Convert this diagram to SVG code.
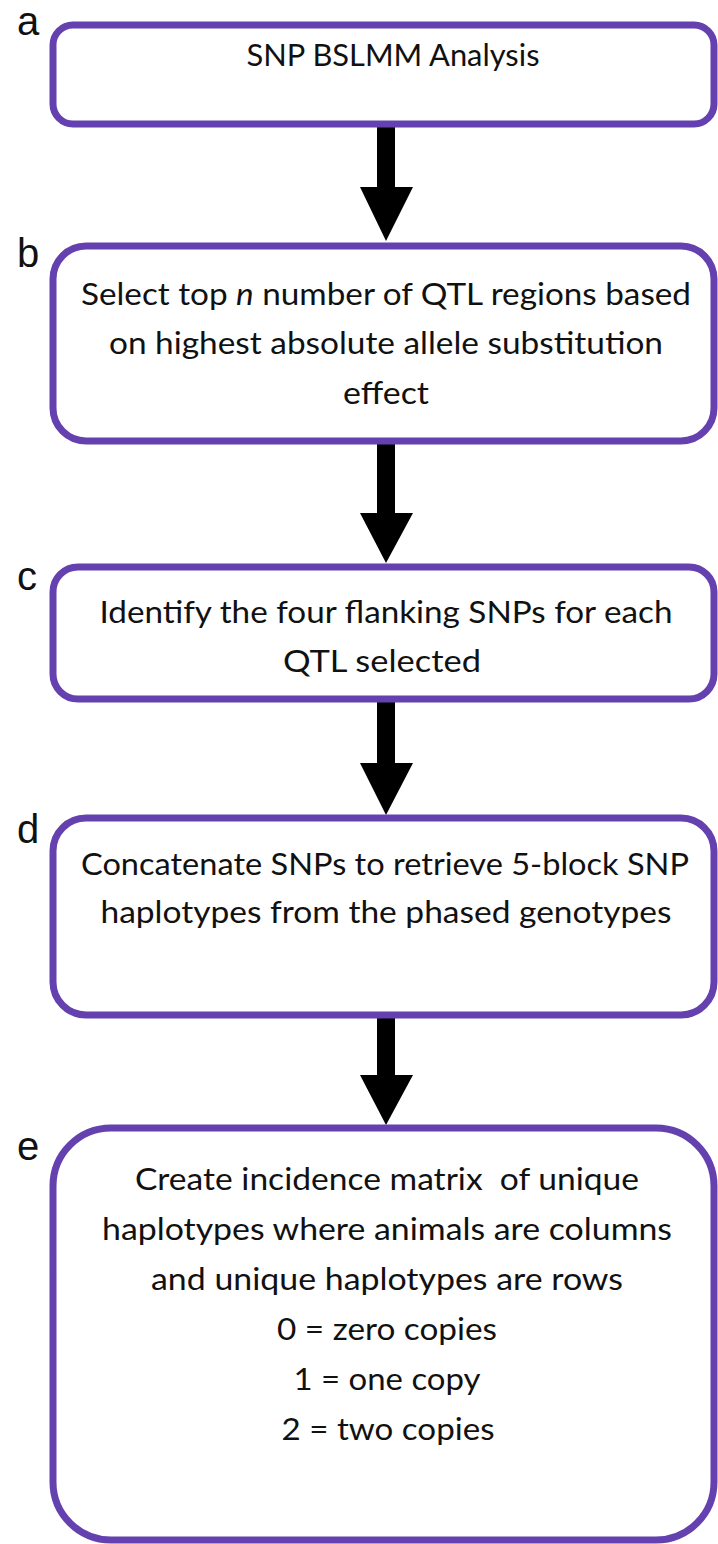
<svg xmlns="http://www.w3.org/2000/svg" width="718" height="1544" viewBox="0 0 718 1544">
<style>
.box{fill:#ffffff;stroke:#6441AF;stroke-width:7}
.t{font-family:Lato,"Open Sans","Liberation Sans",sans-serif;font-size:31px;fill:#111111;text-anchor:middle}
.lbl{font-family:"Liberation Sans",Arial,sans-serif;font-size:40px;fill:#111111}
.arr{fill:#000000}
</style>
<rect width="718" height="1544" fill="#ffffff"/>
<g id="connectors">
<polygon class="arr" points="377,124 395,124 395,187 413,187 386,241 360,187 377,187"/>
<polygon class="arr" points="377,441 395,441 395,513 413,513 386,563 360,513 377,513"/>
<polygon class="arr" points="377,699 395,699 395,763 413,763 386,815 360,763 377,763"/>
<polygon class="arr" points="377,1015 395,1015 395,1075 413,1075 386,1125 360,1075 377,1075"/>
</g>
<g id="node-a">
<text class="lbl" x="17" y="35">a</text>
<rect class="box" x="53" y="25" width="661" height="99" rx="20"/>
<text class="t" x="393" y="66" textLength="293" lengthAdjust="spacingAndGlyphs">SNP BSLMM Analysis</text>
</g>
<g id="node-b">
<text class="lbl" x="17" y="267">b</text>
<rect class="box" x="53" y="246" width="661" height="195" rx="33"/>
<text class="t" x="386" y="305" textLength="610" lengthAdjust="spacingAndGlyphs">Select top <tspan font-style="italic">n</tspan> number of QTL regions based</text>
<text class="t" x="386" y="354" textLength="554" lengthAdjust="spacingAndGlyphs">on highest absolute allele substitution</text>
<text class="t" x="386" y="404" textLength="86" lengthAdjust="spacingAndGlyphs">effect</text>
</g>
<g id="node-c">
<text class="lbl" x="17" y="590">c</text>
<rect class="box" x="53" y="567" width="661" height="132" rx="25"/>
<text class="t" x="386" y="623" textLength="573" lengthAdjust="spacingAndGlyphs">Identify the four flanking SNPs for each</text>
<text class="t" x="382" y="672" textLength="198" lengthAdjust="spacingAndGlyphs">QTL selected</text>
</g>
<g id="node-d">
<text class="lbl" x="17" y="843">d</text>
<rect class="box" x="53" y="818" width="661" height="197" rx="33"/>
<text class="t" x="385" y="875" textLength="608" lengthAdjust="spacingAndGlyphs">Concatenate SNPs to retrieve 5-block SNP</text>
<text class="t" x="386" y="923" textLength="571" lengthAdjust="spacingAndGlyphs">haplotypes from the phased genotypes</text>
</g>
<g id="node-e">
<text class="lbl" x="17" y="1160">e</text>
<rect class="box" x="53" y="1128" width="661" height="412" rx="58"/>
<text class="t" x="387" y="1190" textLength="504" lengthAdjust="spacingAndGlyphs" xml:space="preserve">Create incidence matrix  of unique</text>
<text class="t" x="387" y="1240" textLength="570" lengthAdjust="spacingAndGlyphs">haplotypes where animals are columns</text>
<text class="t" x="387" y="1290" textLength="472" lengthAdjust="spacingAndGlyphs">and unique haplotypes are rows</text>
<text class="t" x="387" y="1340" textLength="220" lengthAdjust="spacingAndGlyphs">0 = zero copies</text>
<text class="t" x="387" y="1390" textLength="187" lengthAdjust="spacingAndGlyphs">1 = one copy</text>
<text class="t" x="388" y="1440" textLength="213" lengthAdjust="spacingAndGlyphs">2 = two copies</text>
</g>
</svg>
